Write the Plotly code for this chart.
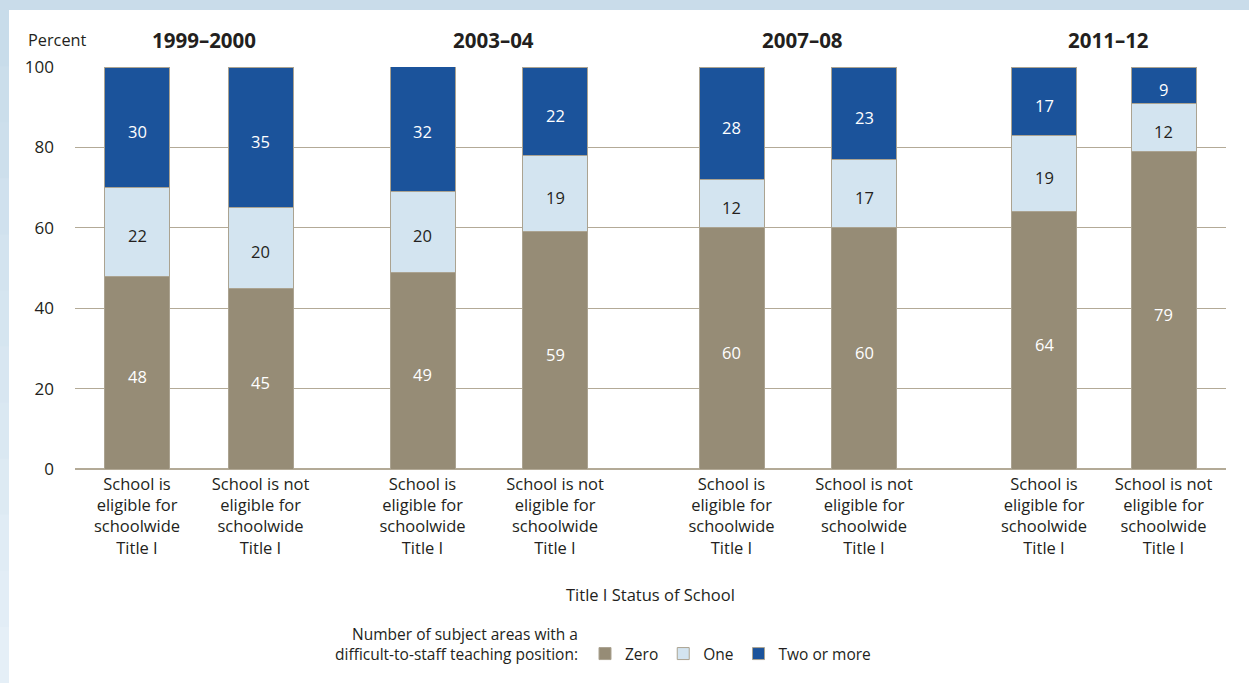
import plotly.graph_objects as go

# ---- data ----
years = ["1999–2000", "2003–04", "2007–08", "2011–12"]
status = ["School is<br>eligible for<br>schoolwide<br>Title I",
          "School is not<br>eligible for<br>schoolwide<br>Title I"]
zero = [48, 45, 49, 59, 60, 60, 64, 79]
one = [22, 20, 20, 19, 12, 17, 19, 12]
two_or_more = [30, 35, 32, 22, 28, 23, 17, 9]
series_names = ["Zero", "One", "Two or more"]

# ---- layout constants (pixel-based x axis) ----
bar_x = [137, 260.5, 422.5, 555, 731.5, 864, 1044, 1163.5]
bar_w = 65
W, H = 1249, 683
L, R, T, B = 75, 23, 67, 214
pw, ph = W - L - R, H - T - B

colors = ["#968c76", "#d3e4f0", "#1b539b"]
text_colors = ["white", "#231f20", "white"]
FONT = "Open Sans"
TXT = "#231f20"

series = [zero, one, two_or_more]
fig = go.Figure()
for name, vals, c in zip(series_names, series, colors):
    fig.add_trace(go.Bar(
        x=bar_x, y=vals, width=bar_w, name=name,
        marker=dict(color=c, line=dict(color="#aba391", width=1)),
        hoverinfo="skip",
    ))

annotations = []
# value labels at segment centres (from the data)
for j in range(len(bar_x)):
    base = 0
    for vals, tc in zip(series, text_colors):
        v = vals[j]
        annotations.append(dict(x=bar_x[j], y=base + v / 2, xref="x", yref="y",
                                text=str(v), showarrow=False, yshift=-4,
                                font=dict(family=FONT, size=16.5, color=tc),
                                xanchor="center", yanchor="middle"))
        base += v

ticktext = [status[i % 2] for i in range(len(bar_x))]

def px2paper_x(px):
    return (px - L) / pw

def px2paper_y(py):
    return (H - B - py) / ph

# year headers
for i, yr in enumerate(years):
    cx = (bar_x[2 * i] + bar_x[2 * i + 1]) / 2 + 5
    annotations.append(dict(x=cx, xref="x", y=px2paper_y(40), yref="paper",
                            text="<b>" + yr + "</b>", showarrow=False,
                            font=dict(family=FONT, size=20.5, color=TXT),
                            xanchor="center", yanchor="middle"))
annotations.append(dict(x=px2paper_x(26), xref="paper", y=px2paper_y(40), yref="paper",
                        text="Percent", showarrow=False,
                        font=dict(family=FONT, size=16.3, color=TXT),
                        xanchor="left", yanchor="middle"))
annotations.append(dict(x=0.5, xref="paper", y=px2paper_y(594), yref="paper",
                        text="Title I Status of School", showarrow=False,
                        font=dict(family=FONT, size=16.5, color=TXT),
                        xanchor="center", yanchor="middle"))
annotations.append(dict(x=px2paper_x(580), xref="paper", y=px2paper_y(644), yref="paper",
                        text="Number of subject areas with a<br>difficult-to-staff teaching position:",
                        showarrow=False, align="right",
                        font=dict(family=FONT, size=15.5, color=TXT),
                        xanchor="right", yanchor="middle"))

shapes = [dict(type="rect", xref="paper", yref="paper", layer="below",
               x0=px2paper_x(9), x1=px2paper_x(W + 20),
               y0=px2paper_y(H + 20), y1=px2paper_y(10),
               fillcolor="white", line=dict(width=0))]
# light-blue left strip gradient (top darker, bottom lighter)
n = 12
c0, c1 = (200, 220, 234), (229, 239, 247)
for k in range(n):
    t = k / (n - 1)
    col = "rgb(%d,%d,%d)" % tuple(round(a + (b - a) * t) for a, b in zip(c0, c1))
    y0p = 10 + (H - 10) * k / n
    y1p = 10 + (H - 10) * (k + 1) / n + 1
    shapes.append(dict(type="rect", xref="paper", yref="paper", layer="below",
                       x0=px2paper_x(-5), x1=px2paper_x(9),
                       y0=px2paper_y(y1p), y1=px2paper_y(y0p),
                       fillcolor=col, line=dict(width=0)))

fig.update_layout(
    width=W, height=H,
    margin=dict(l=L, r=R, t=T, b=B, autoexpand=False),
    paper_bgcolor="#c9dcea", plot_bgcolor="rgba(0,0,0,0)",
    barmode="stack",
    font=dict(family=FONT, size=16, color=TXT),
    showlegend=True,
    legend=dict(orientation="h", x=px2paper_x(585), y=px2paper_y(654),
                xanchor="left", yanchor="middle",
                font=dict(family=FONT, size=15.5, color=TXT),
                bgcolor="rgba(0,0,0,0)", traceorder="normal",
                itemwidth=30),
    xaxis=dict(range=[L, W - R], tickvals=bar_x, ticktext=ticktext,
               showgrid=False, zeroline=False, showline=False,
               tickfont=dict(family=FONT, size=16.5, color=TXT),
               ticks="", ticklabelstandoff=3, fixedrange=True),
    yaxis=dict(range=[0, 100], tickvals=[0, 20, 40, 60, 80, 100],
               showgrid=True, gridcolor="#b3aa97", gridwidth=1,
               zeroline=True, zerolinecolor="#b3aa97", zerolinewidth=1.5,
               showline=False, ticks="", ticklabelstandoff=20,
               tickfont=dict(family=FONT, size=17, color=TXT),
               fixedrange=True),
    annotations=annotations,
    shapes=shapes,
)

fig.write_html("out.html")
